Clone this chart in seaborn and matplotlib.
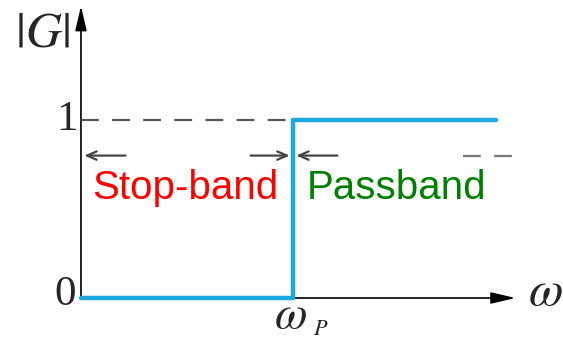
import matplotlib
matplotlib.use("Agg")
import matplotlib.pyplot as plt
import seaborn as sns
import pandas as pd

# ideal high-pass response, frequency in units of w_P
freq = [0, 1, 1, 1.96]
gain = [0, 0, 1, 1]
band_names = ["Stop-band", "Passband"]
band_colors = ["#ff0000", "#008000"]
band_centers = [0.49, 1.49]

sns.set_style("white")
plt.rcParams["mathtext.fontset"] = "stix"
plt.rcParams["font.family"] = ["Liberation Serif", "DejaVu Serif"]

df = pd.DataFrame({"freq": freq, "gain": gain})

fig = plt.figure(figsize=(5.63, 3.40), dpi=100)
ax = fig.add_axes([0, 0, 1, 1])
ax.set_xlim(-0.382, 2.274)
ax.set_ylim(-0.236, 1.674)
ax.axis("off")

# dashed guides
ax.plot([0, 1], [1, 1], color="#555555", lw=1.6, dashes=(8, 6))
ax.plot([1.80, 2.06], [0.8, 0.8], color="#777777", lw=1.6, dashes=(8, 6))

sns.lineplot(data=df, x="freq", y="gain", estimator=None, sort=False,
             color="#1ca9e1", lw=3.2, ax=ax, zorder=3)

# axes with arrows
axis_kw = dict(arrowstyle="-|>,head_length=1.5,head_width=0.35", color="black", lw=1.2,
               shrinkA=0, shrinkB=0)
ax.annotate("", xy=(0, 1.64), xytext=(0, 0), arrowprops=axis_kw, zorder=1)
ax.annotate("", xy=(2.05, 0), xytext=(0, 0), arrowprops=axis_kw, zorder=1)

# band arrows
band_kw = dict(arrowstyle="->,head_length=0.7,head_width=0.3", color="#444444", lw=1.6,
               shrinkA=0, shrinkB=0)
ax.annotate("", xy=(0.015, 0.8), xytext=(0.21, 0.8), arrowprops=band_kw)
ax.annotate("", xy=(0.985, 0.8), xytext=(0.80, 0.8), arrowprops=band_kw)
ax.annotate("", xy=(1.015, 0.8), xytext=(1.21, 0.8), arrowprops=band_kw)

for name, col, xc in zip(band_names, band_colors, band_centers):
    ax.text(xc, 0.62, name, color=col, fontsize=29, family="Liberation Sans",
            ha="center", va="center")

# labels
ax.text(-0.015, 1.0, "1", fontsize=31, ha="right", va="center")
ax.text(-0.025, 0.02, "0", fontsize=31, ha="right", va="center")
ax.text(-0.18, 1.48, r"$|G|$", fontsize=36, ha="center", va="center")
ax.text(2.19, 0.03, r"$\omega$", fontsize=36, ha="center", va="center")
ax.text(0.99, -0.105, r"$\omega$", fontsize=34, ha="center", va="center")
ax.text(1.13, -0.18, r"$P$", fontsize=16, ha="center", va="center")

fig.savefig("out.png", dpi=100)
